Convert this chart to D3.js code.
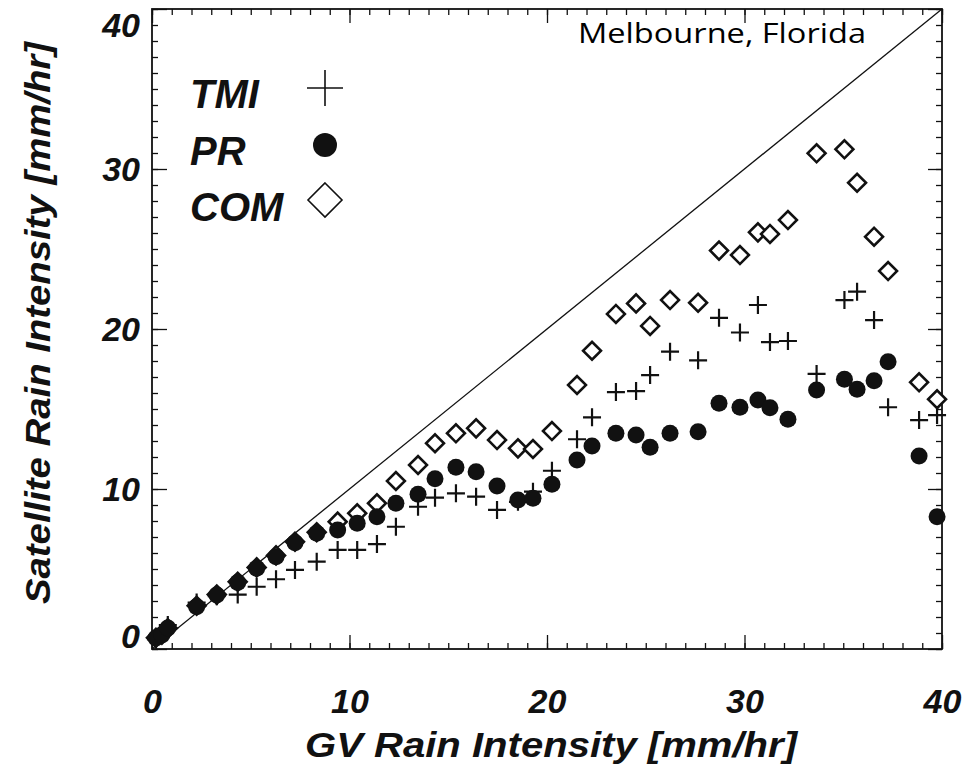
<!DOCTYPE html>
<html lang="en">
<head>
  <title>Satellite vs GV rain intensity, Melbourne Florida</title>
  <!-- d3 for the scales, axes and the marks -->
  <script src="https://d3js.org/d3.v7.min.js"></script>
  <style>
    body { margin: 0; background: #fff; }
    .lab { font-family: "Liberation Sans", Arial, Helvetica, sans-serif; font-weight: bold; font-style: italic; fill: #111; }
  </style>
</head>
<body>
<script>
  /* GV rain intensity bins (x) */
  var gvRain = [0.2, 0.5, 0.8, 2.26, 3.28, 4.34, 5.3, 6.28, 7.24, 8.34, 9.4, 10.39, 11.39, 12.35,
    13.47, 14.33, 15.39, 16.41, 17.47, 18.53, 19.29, 20.25, 21.52, 22.28, 23.49, 24.51, 25.22,
    26.23, 27.65, 28.71, 29.77, 30.68, 31.29, 32.2, 33.65, 35.06, 35.7, 36.56, 37.27, 38.84, 39.75];

  /* satellite rain intensity for each instrument */
  var tmiRain = [0.6, 0.9, 1.5, 2.9, 3.3, 3.4, 3.89, 4.36, 4.94, 5.46, 6.19, 6.19, 6.56, 7.64,
    8.89, 9.46, 9.73, 9.52, 8.69, 9.2, 9.83, 11.14, 13.11, 14.48, 16.06, 16.12, 17.12,
    18.58, 18.04, 20.7, 19.78, 21.5, 19.18, 19.25, 17.19, 21.81, 22.33, 20.56, 15.11, 14.31, 14.62];
  var prRain = [0.69, 0.88, 1.31, 2.64, 3.38, 4.16, 5.04, 5.77, 6.64, 7.23, 7.44, 7.86, 8.27, 9.11,
    9.67, 10.64, 11.36, 11.08, 10.19, 9.31, 9.42, 10.29, 11.81, 12.69, 13.48, 13.38, 12.61,
    13.48, 13.58, 15.36, 15.11, 15.56, 15.08, 14.36, 16.19, 16.86, 16.23, 16.77, 17.96, 12.06, 8.27];
  var comRain = [0.7, 0.9, 1.3, 2.7, 3.4, 4.2, 5.1, 5.85, 6.7, 7.3, 7.96, 8.48, 9.11, 10.5,
    11.5, 12.86, 13.48, 13.79, 13.06, 12.54, 12.5, 13.62, 16.5, 18.64, 20.94, 21.6, 20.19,
    21.81, 21.64, 24.9, 24.62, 26.04, 25.94, 26.81, 30.98, 31.23, 29.14, 25.77, 23.62, 16.67, 15.61];

  var majorTicks = [0, 10, 20, 30, 40];
  var legendNames = ["TMI", "PR", "COM"];

  var width = 978, height = 781;
  var x = d3.scaleLinear().domain([0, 40]).range([152, 942]);
  var y = d3.scaleLinear().domain([0, 40]).range([649, 9]);

  var svg = d3.select("body").append("svg")
      .attr("width", width)
      .attr("height", height);

  /* minor ticks every 1 mm/hr on all four sides, pointing inwards */
  var minor = d3.range(0, 41);
  function minorAxis(ax, t) {
    svg.append("g").attr("transform", t)
      .call(ax.tickValues(minor).tickSize(-6).tickFormat(""))
      .call(function (g) { g.select(".domain").remove(); });
  }
  minorAxis(d3.axisBottom(x), "translate(0," + y(0) + ")");
  minorAxis(d3.axisTop(x), "translate(0," + y(40) + ")");
  minorAxis(d3.axisLeft(y), "translate(" + x(0) + ",0)");
  minorAxis(d3.axisRight(y), "translate(" + x(40) + ",0)");

  /* major ticks with labels on bottom and left, plain ones on top and right */
  var xAxis = svg.append("g").attr("transform", "translate(0," + y(0) + ")")
    .call(d3.axisBottom(x).tickValues(majorTicks).tickSize(-14).tickPadding(40).tickSizeOuter(0));
  var yAxis = svg.append("g").attr("transform", "translate(" + x(0) + ",0)")
    .call(d3.axisLeft(y).tickValues(majorTicks).tickSize(-15).tickPadding(12).tickSizeOuter(0));
  svg.append("g").attr("transform", "translate(0," + y(40) + ")")
    .call(d3.axisTop(x).tickValues(majorTicks).tickSize(-14).tickFormat(""));
  svg.append("g").attr("transform", "translate(" + x(40) + ",0)")
    .call(d3.axisRight(y).tickValues(majorTicks).tickSize(-14).tickFormat(""));

  svg.selectAll(".domain").remove();
  svg.selectAll(".tick line").attr("stroke", "#111").attr("stroke-width", 1.3);
  [xAxis, yAxis].forEach(function (a) {
    a.selectAll("text").attr("class", "lab").attr("font-size", 34).attr("fill", "#111");
  });
  /* end labels on the y axis are pulled inside the frame height */
  yAxis.selectAll("text").attr("dy", function (d) {
    return d === 40 ? "0.82em" : d === 0 ? "-0.05em" : "0.35em";
  });

  /* plot frame */
  svg.append("rect")
    .attr("x", x(0)).attr("y", y(40))
    .attr("width", x(40) - x(0)).attr("height", y(0) - y(40))
    .attr("fill", "none").attr("stroke", "#111").attr("stroke-width", 1.8);

  /* 1:1 line */
  svg.append("line")
    .attr("x1", x(0)).attr("y1", y(0)).attr("x2", x(40)).attr("y2", y(40))
    .attr("stroke", "#111").attr("stroke-width", 1.3);

  var pts = function (arr) { return gvRain.map(function (g, i) { return [g, arr[i]]; }); };

  /* COM diamonds (drawn first, dots sit on top at the low end) */
  var diamond = d3.symbol().type(d3.symbolSquare).size(160);
  svg.append("g").selectAll("path")
    .data(pts(comRain)).enter().append("path")
    .attr("d", diamond)
    .attr("transform", function (d) { return "translate(" + x(d[0]) + "," + y(d[1]) + ") rotate(45)"; })
    .attr("fill", "#fff").attr("stroke", "#111").attr("stroke-width", 2.6);

  /* TMI pluses */
  var plus = svg.append("g").selectAll("g")
    .data(pts(tmiRain)).enter().append("g")
    .attr("transform", function (d) { return "translate(" + x(d[0]) + "," + y(d[1]) + ")"; });
  plus.append("path")
    .attr("d", "M-9,0H9M0,-9V9")
    .attr("stroke", "#111").attr("stroke-width", 2.2);

  /* PR dots */
  svg.append("g").selectAll("circle")
    .data(pts(prRain)).enter().append("circle")
    .attr("cx", function (d) { return x(d[0]); })
    .attr("cy", function (d) { return y(d[1]); })
    .attr("r", 8.5)
    .attr("fill", "#111");

  /* legend */
  var legY = [108, 165, 221];
  svg.selectAll(".leg").data(legendNames).enter().append("text")
    .attr("class", "lab")
    .attr("x", 190).attr("y", function (d, i) { return legY[i]; })
    .attr("font-size", 40)
    .text(function (d) { return d; });
  svg.append("path").attr("d", "M307,88H343M325,70V106")
    .attr("stroke", "#111").attr("stroke-width", 1.6);
  svg.append("circle").attr("cx", 325).attr("cy", 145).attr("r", 12).attr("fill", "#111");
  svg.append("path").attr("d", "M325,183L342,200L325,217L308,200Z")
    .attr("fill", "#fff").attr("stroke", "#111").attr("stroke-width", 1.6);

  /* axis titles */
  svg.append("text").attr("class", "lab")
    .attr("x", 551).attr("y", 757)
    .attr("text-anchor", "middle").attr("font-size", 35)
    .attr("textLength", 492).attr("lengthAdjust", "spacingAndGlyphs")
    .text("GV Rain Intensity [mm/hr]");
  svg.append("text").attr("class", "lab")
    .attr("transform", "translate(50,323) rotate(-90)")
    .attr("text-anchor", "middle").attr("font-size", 35)
    .attr("textLength", 562).attr("lengthAdjust", "spacingAndGlyphs")
    .text("Satellite Rain Intensity [mm/hr]");

  /* site name */
  svg.append("text")
    .attr("x", 578).attr("y", 43)
    .attr("font-family", "'Open Sans', 'Noto Sans', sans-serif")
    .attr("font-size", 27)
    .attr("textLength", 288).attr("lengthAdjust", "spacingAndGlyphs")
    .attr("fill", "#000")
    .text("Melbourne, Florida");
</script>
</body>
</html>
